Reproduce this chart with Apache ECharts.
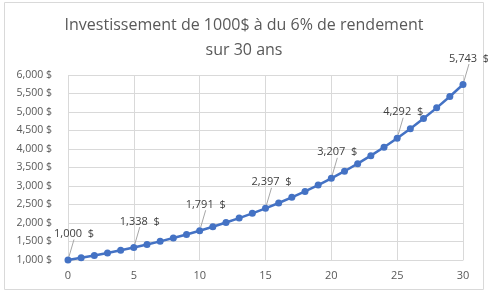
<!DOCTYPE html>
<html><head><meta charset="utf-8">
<script src="https://cdn.jsdelivr.net/npm/echarts@6/dist/echarts.min.js"></script>
<style>html,body{margin:0;padding:0;background:#fff}#c{width:488px;height:295px}</style>
</head><body><div id="c"></div>
<script>
const years = [0,1,2,3,4,5,6,7,8,9,10,11,12,13,14,15,16,17,18,19,20,21,22,23,24,25,26,27,28,29,30];
const values = [1000,1060,1123.6,1191.02,1262.48,1338.23,1418.52,1503.63,1593.85,1689.48,1790.85,1898.30,2012.20,2132.93,2260.90,2396.56,2540.35,2692.77,2854.34,3025.60,3207.14,3399.56,3603.54,3819.75,4048.93,4291.87,4549.38,4822.35,5111.69,5418.39,5743.49];
const labeledYears = [0,5,10,15,20,25,30];
const titleText = 'Investissement de 1000$ à du 6% de rendement\nsur 30 ans';

function fmtAxis(v){return Math.round(v).toLocaleString('en-US') + ' $';}
function fmtLabel(v){return Math.round(v).toLocaleString('en-US') + '  $';}

const data = years.map((x,i)=>{
  const item = {value:[x, values[i]]};
  if (labeledYears.includes(x)) {
    item.label = {show:true};
    item.labelLine = {show:true};
  }
  return item;
});

const chart = echarts.init(document.getElementById('c'), null, {renderer:'canvas'});
chart.setOption({
  animation:false,
  graphic:[{type:'rect', shape:{x:4.5,y:2.5,width:479,height:287}, style:{fill:'none', stroke:'#d9d9d9', lineWidth:1}, silent:true}],
  title:{text:titleText, left:'center', top:8, textStyle:{fontFamily:'Open Sans', fontWeight:'normal', fontSize:16, color:'#595959', lineHeight:25}},
  grid:{left:68, right:25, top:75, bottom:35},
  xAxis:{type:'value', min:0, max:30, interval:5,
    axisLine:{show:true, lineStyle:{color:'#d9d9d9'}}, axisTick:{show:false},
    axisLabel:{color:'#595959', fontSize:11, fontFamily:'Open Sans', margin:10},
    splitLine:{show:true, lineStyle:{color:'#d9d9d9'}}},
  yAxis:{type:'value', min:1000, max:6000, interval:500,
    axisLine:{show:false}, axisTick:{show:false},
    axisLabel:{color:'#595959', fontSize:10.5, fontFamily:'Open Sans', margin:16, formatter:fmtAxis},
    splitLine:{show:true, lineStyle:{color:'#d9d9d9'}}},
  series:[{type:'line', data:data, symbol:'circle', symbolSize:7,
    lineStyle:{color:'#4472C4', width:2.5}, itemStyle:{color:'#4472C4'},
    label:{show:false, position:'top', distance:4, color:'#404040', fontSize:11, fontFamily:'Open Sans', formatter:p=>fmtLabel(p.value[1])},
    labelLayout:{dx:6, dy:-13},
    labelLine:{show:false, lineStyle:{color:'#a6a6a6', width:1}}
  }]
});
</script></body></html>
